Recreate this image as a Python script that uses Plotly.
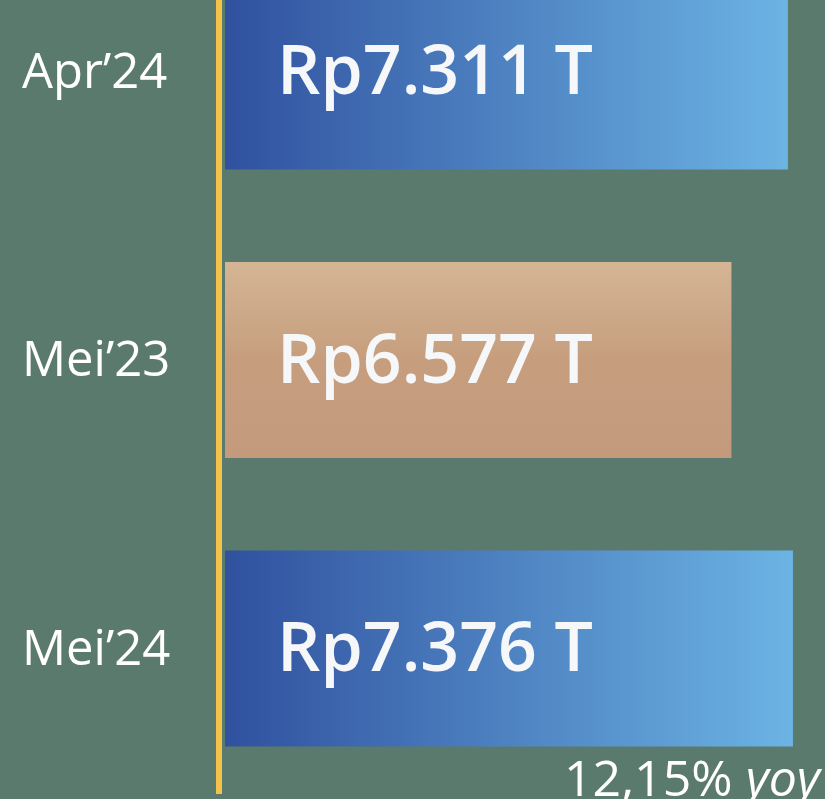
import plotly.graph_objects as go

# ---- data ----
categories = ["Apr’24", "Mei’23", "Mei’24"]
values = [7.311, 6.577, 7.376]
bar_kinds = ["blue", "tan", "blue"]
growth_label = "12,15%"
growth_suffix = "yoy"

BG = "#5b7a6e"
BLUE_SCALE = [[0, "#30519f"], [1, "#6cb4e4"]]
TAN_SCALE = [[0, "#c49a7c"], [0.5, "#c69e7e"], [1, "#d4b594"]]
YELLOW = "#f4c24a"
HALF = 0.34

fig = go.Figure()
for i, (cat, v, kind) in enumerate(zip(categories, values, bar_kinds)):
    xs = [0, v, v, 0, 0]
    ys = [i - HALF, i - HALF, i + HALF, i + HALF, i - HALF]
    if kind == "blue":
        grad = dict(type="horizontal", colorscale=BLUE_SCALE)
    else:
        grad = dict(type="vertical", colorscale=TAN_SCALE)
    fig.add_trace(go.Scatter(
        x=xs, y=ys, mode="lines", fill="toself",
        line=dict(width=0, color="rgba(0,0,0,0)"),
        fillgradient=grad, hoverinfo="skip", showlegend=False,
    ))
    # category label
    fig.add_annotation(
        x=20 / 825, xref="paper", xanchor="left",
        y=i, yref="y", yanchor="middle", yshift=3,
        text=cat, showarrow=False,
        font=dict(family="Open Sans", size=49, color="#ffffff"),
    )
    # value label
    fig.add_annotation(
        x=275 / 825, xref="paper", xanchor="left",
        y=i, yref="y", yanchor="middle", yshift=4,
        text=f"Rp{v:.3f} T", showarrow=False,
        font=dict(family="Open Sans", size=68, color="#f6f7f8", weight=600),
    )

fig.add_annotation(
    x=562 / 825, xref="paper", xanchor="left",
    y=0, yref="paper", yanchor="bottom", yshift=-14,
    text=f"{growth_label} <i>{growth_suffix}</i>", showarrow=False,
    font=dict(family="Open Sans", size=50, color="#ffffff"),
)

fig.add_shape(
    type="line", xref="paper", yref="paper",
    x0=219 / 825, x1=219 / 825, y0=1.0, y1=1 - 794 / 799,
    line=dict(color=YELLOW, width=6),
)

k = 77.0
fig.update_layout(
    width=825, height=799,
    margin=dict(l=0, r=0, t=0, b=0),
    paper_bgcolor=BG, plot_bgcolor=BG,
    xaxis=dict(range=[-225 / k, 600 / k], visible=False, fixedrange=True),
    yaxis=dict(range=[(799 - 71.5) / 288.5, -71.5 / 288.5], visible=False, fixedrange=True),
    showlegend=False,
)

fig.write_html(
    "out.html",
    config={"displayModeBar": False},
    post_script="document.body.style.margin='0';document.body.style.background='" + BG + "';",
)
